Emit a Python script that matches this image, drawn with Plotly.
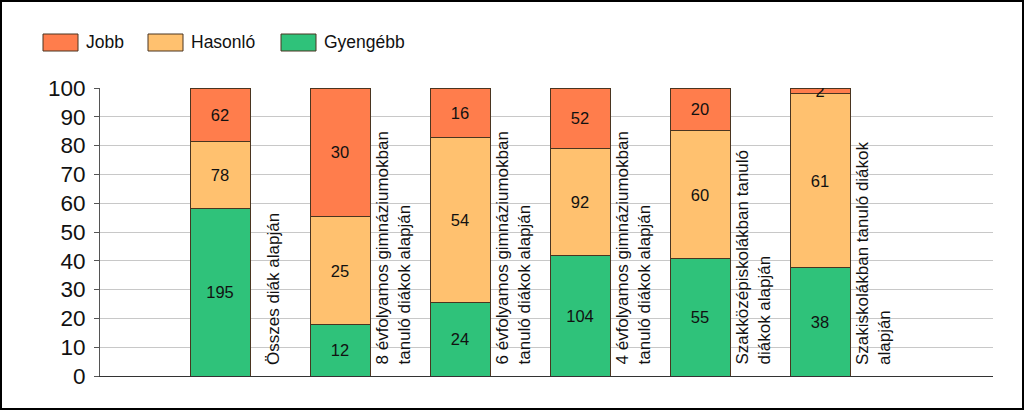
import plotly.graph_objects as go

categories = ["Összes diák alapján",
              "8 évfolyamos gimnáziumokban<br>tanuló diákok alapján",
              "6 évfolyamos gimnáziumokban<br>tanuló diákok alapján",
              "4 évfolyamos gimnáziumokban<br>tanuló diákok alapján",
              "Szakközépiskolákban tanuló<br>diákok alapján",
              "Szakiskolákban tanuló diákok<br>alapján"]
gyengebb = [195, 12, 24, 104, 55, 38]
hasonlo = [78, 25, 54, 92, 60, 61]
jobb = [62, 30, 16, 52, 20, 2]
yticks = [0, 10, 20, 30, 40, 50, 60, 70, 80, 90, 100]

series = [("Gyengébb", gyengebb, "#2fc27a"),
          ("Hasonló", hasonlo, "#ffc16f"),
          ("Jobb", jobb, "#ff7d4c")]

W, H = 1024, 410
L, R, T, B = 100, 993, 88, 376
FONT = "Arial, Liberation Sans, sans-serif"

def px(x):
    return (x - L) / (R - L)

def py(y):
    return (B - y) / (B - T)

xs = list(range(len(categories)))
fig = go.Figure()
for name, vals, col in series:
    fig.add_trace(go.Bar(
        x=xs, y=vals, name=name, width=0.5,
        marker=dict(color=col, line=dict(color="#4a3520", width=1)),
        text=[str(v) for v in vals], textposition="inside",
        insidetextanchor="middle", textangle=0,
        textfont=dict(family=FONT, size=16.5, color="#111111"),
        showlegend=False,
    ))

annotations = []
for i, c in enumerate(categories):
    annotations.append(dict(
        x=i + 0.25, y=0, xref="x", yref="y", text=c, showarrow=False,
        textangle=-90, xanchor="center", yanchor="bottom", align="left",
        xshift=23, yshift=9,
        font=dict(family=FONT, size=17, color="#111111")))

shapes = []
legend_items = [("Jobb", "#ff7d4c", 43), ("Hasonló", "#ffc16f", 148), ("Gyengébb", "#2fc27a", 281)]
for name, col, x0 in legend_items:
    shapes.append(dict(type="rect", xref="paper", yref="paper",
                       x0=px(x0), x1=px(x0 + 35), y0=py(51), y1=py(34),
                       fillcolor=col, line=dict(color="#4a3520", width=1)))
    annotations.append(dict(x=px(x0 + 41), y=py(42.5), xref="paper", yref="paper",
                            text=name, showarrow=False, xanchor="left", yanchor="middle",
                            font=dict(family=FONT, size=17.5, color="#111111")))
# outer border
shapes.append(dict(type="rect", xref="paper", yref="paper",
                   x0=px(1), x1=px(W - 1), y0=py(H - 1), y1=py(1),
                   line=dict(color="#000000", width=2), fillcolor="rgba(0,0,0,0)"))

fig.update_layout(
    width=W, height=H, barmode="stack", barnorm="percent",
    margin=dict(l=L, r=W - R, t=T, b=H - B, pad=0),
    paper_bgcolor="white", plot_bgcolor="white",
    font=dict(family=FONT, color="#111111"),
    uniformtext=dict(minsize=16, mode="show"),
    xaxis=dict(range=[-1, (R - L) / 120 - 1], showticklabels=False, showgrid=False,
               zeroline=False, showline=True, linecolor="#333333", linewidth=1,
               ticks="", fixedrange=True),
    yaxis=dict(range=[0, 100], tickvals=yticks, ticktext=[str(v) for v in yticks],
               showgrid=True, gridcolor="#c8c8c8", gridwidth=1,
               showline=True, linecolor="#555555", linewidth=1,
               ticks="outside", ticklen=5, tickcolor="#555555",
               tickfont=dict(family=FONT, size=22.5, color="#111111"),
               zeroline=False, ticklabelstandoff=4),
    annotations=annotations, shapes=shapes,
)

fig.write_html("out.html", config={"displayModeBar": False},
               post_script="document.body.style.margin='0';document.body.style.overflow='hidden';")
